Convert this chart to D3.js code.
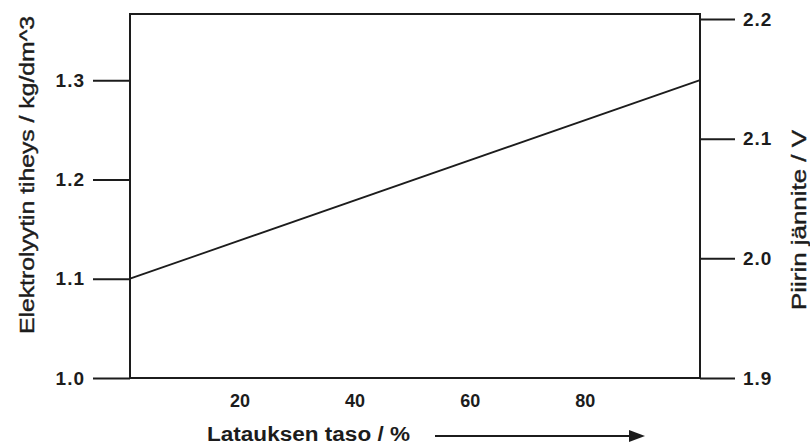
<!DOCTYPE html>
<html>
<head>
<meta charset="utf-8">
<script src="https://cdn.jsdelivr.net/npm/d3@7"></script>
<style>
  body { margin: 0; background: #fff; }
  svg { display: block; font-family: "Liberation Sans", Arial, sans-serif; }
</style>
</head>
<body>
<svg id="chart" width="810" height="446"></svg>
<script>
// data
var charge = [1, 100];            // Latauksen taso / %
var density = [1.1, 1.3];         // Elektrolyytin tiheys / kg/dm^3
var xTicks = [20, 40, 60, 80];
var leftTicks = [1.0, 1.1, 1.2, 1.3];
var rightTicks = [1.9, 2.0, 2.1, 2.2];

var margin = {top: 14, left: 130, right: 110, bottom: 68};
var width = 810, height = 446;

var svg = d3.select("#chart");
var ink = "#1c1c1c";

var x = d3.scaleLinear().domain([1, 100]).range([margin.left, width - margin.right]);
var yL = d3.scaleLinear().domain([1.0, 1.3666]).range([height - margin.bottom, margin.top]);
var yR = d3.scaleLinear().domain([1.9, 2.2042]).range([height - margin.bottom, margin.top]);

// frame
svg.append("rect")
    .attr("x", x.range()[0])
    .attr("y", margin.top)
    .attr("width", x.range()[1] - x.range()[0])
    .attr("height", yL.range()[0] - margin.top)
    .attr("fill", "none")
    .attr("stroke", ink)
    .attr("stroke-width", 2);

// left axis
var gl = svg.append("g")
    .attr("transform", "translate(" + x.range()[0] + ",0)")
    .call(d3.axisLeft(yL).tickValues(leftTicks).tickFormat(d3.format(".1f")).tickSize(37).tickPadding(8));

// right axis
var gr = svg.append("g")
    .attr("transform", "translate(" + x.range()[1] + ",0)")
    .call(d3.axisRight(yR).tickValues(rightTicks).tickFormat(d3.format(".1f")).tickSize(35).tickPadding(8));

// bottom axis (labels only)
var gb = svg.append("g")
    .attr("transform", "translate(0," + yL.range()[0] + ")")
    .call(d3.axisBottom(x).tickValues(xTicks).tickSize(0).tickPadding(16));

[gl, gr, gb].forEach(function(g) {
    g.select(".domain").remove();
    g.selectAll(".tick line").attr("stroke", ink).attr("stroke-width", 2);
    g.selectAll(".tick text")
        .attr("fill", ink)
        .style("font-size", "18px")
        .style("font-weight", "bold")
        .style("font-family", "'Liberation Sans', Arial, sans-serif");
});
gl.selectAll(".tick text").style("font-size", "19px").attr("letter-spacing", 1);
gr.selectAll(".tick text").style("font-size", "19px").attr("letter-spacing", 1);
gb.selectAll(".tick text").attr("dy", "0.71em");

// the line
var line = d3.line()
    .x(function(d, i) { return x(charge[i]); })
    .y(function(d) { return yL(d); });

svg.append("path")
    .datum(density)
    .attr("d", line)
    .attr("fill", "none")
    .attr("stroke", ink)
    .attr("stroke-width", 1.8);

// axis titles (glyphs stretched along the text, as in the scan)
svg.append("text")
    .attr("transform", "translate(34,175) rotate(-90)")
    .attr("text-anchor", "middle")
    .attr("font-size", 20)
    .attr("fill", ink)
    .attr("stroke", ink)
    .attr("stroke-width", 0.4)
    .attr("textLength", 318)
    .attr("lengthAdjust", "spacingAndGlyphs")
    .text("Elektrolyytin tiheys / kg/dm^3");

svg.append("text")
    .attr("transform", "translate(806,220) rotate(-90)")
    .attr("text-anchor", "middle")
    .attr("font-size", 20)
    .attr("fill", ink)
    .attr("stroke", ink)
    .attr("stroke-width", 0.4)
    .attr("textLength", 180)
    .attr("lengthAdjust", "spacingAndGlyphs")
    .text("Piirin jännite / V");

svg.append("text")
    .attr("x", 207)
    .attr("y", 441)
    .attr("font-size", 20)
    .attr("font-weight", "bold")
    .attr("fill", ink)
    .attr("textLength", 203)
    .attr("lengthAdjust", "spacingAndGlyphs")
    .text("Latauksen taso / %");

// arrow after the x title
svg.append("line")
    .attr("x1", 435).attr("y1", 436)
    .attr("x2", 632).attr("y2", 436)
    .attr("stroke", ink)
    .attr("stroke-width", 2.2);

svg.append("path")
    .attr("d", "M629,430 L645,436 L629,442 Z")
    .attr("fill", ink);
</script>
</body>
</html>
